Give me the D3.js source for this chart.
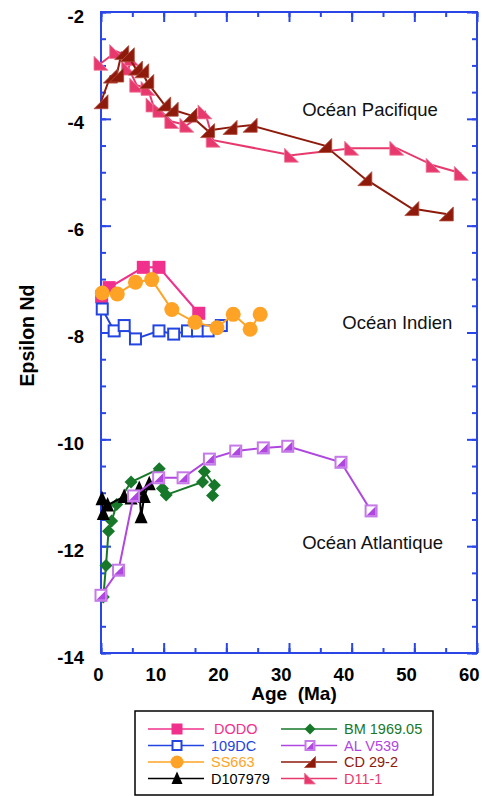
<!DOCTYPE html>
<html><head><meta charset="utf-8">
<script src="https://cdn.jsdelivr.net/npm/d3@7"></script>
<style>body{margin:0;background:#fff}svg{display:block}</style>
</head><body>
<script>
// ---- data (age Ma, epsilon Nd) ----
const dodo = [[0.1,-7.33],[1.3,-7.16],[6.75,-6.78],[9.25,-6.78],[15.6,-7.64]];
const dc109 = [[0.2,-7.56],[2.1,-7.97],[3.7,-7.87],[5.5,-8.12],[9.25,-7.97],[11.6,-8.03],[13.8,-7.97],[15.4,-7.97],[17.1,-7.97],[19.2,-7.87]];
const ss663 = [[0.2,-7.26],[2.6,-7.28],[5.5,-7.06],[8.1,-7.01],[11.3,-7.57],[15.0,-7.81],[18.5,-7.91],[21.1,-7.66],[23.8,-7.94],[25.4,-7.66]];
const d107979 = [[0.16,-11.11],[0.37,-11.39],[1.05,-11.23],[3.7,-11.07],[4.8,-11.1],[6.1,-10.92],[6.4,-11.45],[6.9,-11.07],[7.7,-10.83]];
const bm1969 = [[0.37,-12.95],[0.8,-12.36],[1.2,-11.72],[1.7,-11.53],[2.5,-11.22],[4.8,-10.8],[9.3,-10.55],[9.8,-10.92],[10.4,-11.04],[16.2,-10.8],[16.5,-10.6],[18.1,-10.86],[17.8,-11.05]];
const alv539 = [[0.0,-12.92],[2.8,-12.45],[5.2,-11.06],[9.2,-10.72],[13.1,-10.72],[17.3,-10.37],[21.5,-10.22],[25.9,-10.16],[29.8,-10.13],[38.3,-10.43],[43.1,-11.34]];
const cd292 = [[0.0,-3.68],[1.5,-3.2],[2.5,-3.18],[3.3,-2.76],[4.2,-2.8],[5.5,-3.05],[6.5,-3.1],[7.3,-3.3],[10.0,-3.72],[11.2,-3.82],[14.2,-3.93],[17.0,-4.22],[20.6,-4.16],[23.8,-4.12],[35.7,-4.5],[42.1,-5.12],[49.6,-5.68],[55.1,-5.78]];
const d111 = [[0.0,-2.96],[2.5,-2.74],[4.9,-2.87],[4.4,-3.05],[5.7,-3.37],[7.5,-3.43],[8.3,-3.74],[9.4,-3.84],[11.3,-4.05],[13.7,-4.12],[16.6,-3.87],[17.9,-4.4],[30.4,-4.68],[40.0,-4.55],[47.2,-4.55],[53.0,-4.87],[57.5,-5.02]];

const xTicks = [0,10,20,30,40,50,60];
const yTicks = [-14,-12,-10,-8,-6,-4,-2];
const oceanNames = ["Océan Pacifique","Océan Indien","Océan Atlantique"];
const oceanAge = [32.1,38.5,32.1];
const oceanEps = [-3.83,-7.82,-11.94];

const seriesNames = ["DODO","109DC","SS663","D107979","BM 1969.05","AL V539","CD 29-2","D11-1"];
const seriesData = [dodo,dc109,ss663,d107979,bm1969,alv539,cd292,d111];
const seriesColors = ["#f0308c","#2244e0","#ffa326","#000000","#17782a","#b046e0","#8e1a0c","#e8396e"];
const seriesShapes = ["sqFill","sqOpen","circle","triUp","diamond","sqHalf","triR","triL"];
const drawOrder = [7,6,0,1,2,4,3,5];

// ---- layout ----
const W = 482, H = 796;
const L = 101, R = 477, T = 12, B = 653;
const font = "'Liberation Sans', Arial, Helvetica, sans-serif";
const axisColor = "#2a46e6";

const svg = d3.select("body").append("svg").attr("width", W).attr("height", H);
const x = d3.scaleLinear().domain([0,60]).range([L,R]);
const y = d3.scaleLinear().domain([-14,-2]).range([B,T]);

function marker(g, shape, color, s) {
  const h = s/2;
  if (shape === "sqFill") {
    g.append("rect").attr("x",-h).attr("y",-h).attr("width",s).attr("height",s).attr("fill",color);
  } else if (shape === "sqOpen") {
    g.append("rect").attr("x",-h+1).attr("y",-h+1).attr("width",s-2).attr("height",s-2).attr("fill","#fff").attr("stroke",color).attr("stroke-width",2);
  } else if (shape === "circle") {
    g.append("circle").attr("r",h+1).attr("fill",color);
  } else if (shape === "triUp") {
    g.append("path").attr("d",`M0,${-h-1.5}L${h},${h}L${-h},${h}Z`).attr("fill",color);
  } else if (shape === "diamond") {
    g.append("path").attr("d",`M0,${-h}L${h},0L0,${h}L${-h},0Z`).attr("fill",color);
  } else if (shape === "sqHalf") {
    g.append("rect").attr("x",-h+1).attr("y",-h+1).attr("width",s-2).attr("height",s-2).attr("fill","#fff").attr("stroke","#c57ae8").attr("stroke-width",2);
    g.append("path").attr("d",`M${h-2},${-h+2}L${h-2},${h-2}L${-h+2},${h-2}Z`).attr("fill",color);
  } else if (shape === "triR") {
    g.append("path").attr("d",`M${h},${-h}L${h},${h}L${-h},${h}Z`).attr("fill",color).attr("stroke","#b04a3a").attr("stroke-width",0.8);
  } else if (shape === "triL") {
    g.append("path").attr("d",`M${-h},${-h}L${-h},${h}L${h},${h}Z`).attr("fill",color).attr("stroke","#f07a9a").attr("stroke-width",0.8);
  }
}
const markerSize = {sqFill:13,sqOpen:13,circle:13,triUp:13,diamond:13,sqHalf:13,triR:14,triL:14};

// ---- axes frame with inward ticks ----
const ax = svg.append("g");
function styleAxis(g) {
  g.selectAll(".domain").remove();
  g.selectAll(".tick line").attr("stroke",axisColor).attr("stroke-width",2);
  g.selectAll("text").attr("font-family",font).attr("font-weight","bold").attr("font-size",18.5).attr("fill","#000");
}
const xMinor = d3.range(0,61,5), yMinor = d3.range(-14,-1.99,0.5);
[[d3.axisBottom(x).tickValues(xMinor).tickSize(-5).tickFormat(""), B],
 [d3.axisTop(x).tickValues(xMinor).tickSize(-5).tickFormat(""), T]].forEach(([a,p]) => ax.append("g").attr("transform",`translate(0,${p})`).call(a).call(styleAxis));
[[d3.axisLeft(y).tickValues(yMinor).tickSize(-5).tickFormat(""), L],
 [d3.axisRight(y).tickValues(yMinor).tickSize(-5).tickFormat(""), R]].forEach(([a,p]) => ax.append("g").attr("transform",`translate(${p},0)`).call(a).call(styleAxis));
const fmt = d => String(d);
const xg = ax.append("g").attr("transform",`translate(0,${B})`).call(d3.axisBottom(x).tickValues(xTicks).tickSize(-10).tickPadding(14).tickFormat(fmt)).call(styleAxis);
xg.selectAll(".tick text").attr("text-anchor","end").attr("x",2).attr("dy",null).attr("y",28);
ax.append("g").attr("transform",`translate(0,${T})`).call(d3.axisTop(x).tickValues(xTicks).tickSize(-10).tickFormat("")).call(styleAxis);
const yg = ax.append("g").attr("transform",`translate(${L},0)`).call(d3.axisLeft(y).tickValues(yTicks).tickSize(-10).tickPadding(17).tickFormat(fmt)).call(styleAxis);
yg.selectAll(".tick text").attr("dy",null).attr("y",10);
ax.append("g").attr("transform",`translate(${R},0)`).call(d3.axisRight(y).tickValues(yTicks).tickSize(-10).tickFormat("")).call(styleAxis);
ax.append("rect").attr("x",L).attr("y",T).attr("width",R-L).attr("height",B-T).attr("fill","none").attr("stroke",axisColor).attr("stroke-width",2);

// ---- axis titles ----
svg.append("text").attr("x",294).attr("y",700).attr("text-anchor","middle").attr("font-family",font).attr("font-weight","bold").attr("font-size",19).attr("xml:space","preserve").text("Age  (Ma)");
svg.append("text").attr("transform",`translate(34,${(T+B)/2+3}) rotate(-90)`).attr("text-anchor","middle").attr("font-family",font).attr("font-weight","bold").attr("font-size",19.5).text("Epsilon Nd");

// ---- ocean labels ----
oceanNames.forEach((t,i) => {
  svg.append("text").attr("x", x(oceanAge[i])).attr("y", y(oceanEps[i])+6).attr("font-family",font).attr("font-size",18.5).attr("fill","#111").text(t);
});

// ---- series ----
const line = d3.line().x(d=>x(d[0])).y(d=>y(d[1]));
const plot = svg.append("g");
drawOrder.forEach(i => {
  const g = plot.append("g");
  g.append("path").datum(seriesData[i]).attr("d",line).attr("fill","none").attr("stroke",seriesColors[i]).attr("stroke-width",2);
  g.selectAll("g.m").data(seriesData[i]).enter().append("g").attr("class","m")
    .attr("transform",d=>`translate(${x(d[0])},${y(d[1])})`)
    .each(function(){ marker(d3.select(this), seriesShapes[i], seriesColors[i], markerSize[seriesShapes[i]]); });
});

// ---- legend ----
const lg = svg.append("g");
lg.append("rect").attr("x",135).attr("y",711).attr("width",298).attr("height",84).attr("fill","#fff").attr("stroke","#000").attr("stroke-width",1.5);
seriesNames.forEach((n,i) => {
  const col = Math.floor(i/4), row = i%4;
  const x0 = col===0 ? 148 : 281;
  const yy = 729 + row*16.5;
  const g = lg.append("g");
  g.append("line").attr("x1",x0).attr("x2",x0+56).attr("y1",yy).attr("y2",yy).attr("stroke",seriesColors[i]).attr("stroke-width",1.5);
  const m = g.append("g").attr("transform",`translate(${x0+29},${yy})`);
  marker(m, seriesShapes[i], seriesColors[i], 11);
  g.append("text").attr("x",x0+63+(i===0?3:0)).attr("y",yy+5).attr("font-family",font).attr("font-size",14.5).attr("fill",seriesColors[i]).text(n);
});
</script>
</body></html>
